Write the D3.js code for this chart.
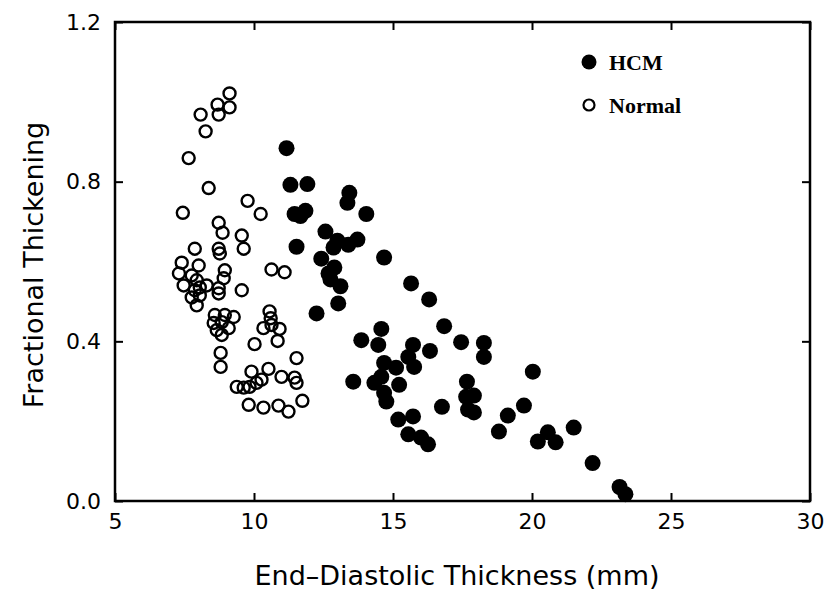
<!DOCTYPE html>
<html>
<head>
<meta charset="utf-8">
<script src="https://cdn.jsdelivr.net/npm/d3@7"></script>
<style>
  body { margin: 0; background: #fff; }
  text { font-family: "DejaVu Sans", sans-serif; fill: #000; }
</style>
</head>
<body>
<div id="chart"></div>
<script>
var w = 829
var h = 592

// HCM patients: end-diastolic thickness (mm), fractional thickening
var hcmX = [11.17, 11.31, 11.92, 11.46, 11.67, 11.85, 11.53, 13.43, 13.36, 14.04,
            12.57, 13.0, 12.86, 13.39, 13.72, 12.42, 12.89, 12.68, 12.75, 13.11,
            13.03, 14.68, 15.65, 16.30, 12.25, 16.84, 17.45, 18.27, 18.27, 14.58,
            13.86, 14.47, 15.72, 15.55, 15.76, 16.33, 14.68, 15.11, 13.57, 14.33,
            14.58, 14.68, 14.76, 15.22, 20.03, 17.66, 17.91, 17.63, 17.70, 17.91,
            16.76, 19.71, 19.13, 15.19, 15.72, 15.55, 16.01, 16.26, 18.81, 20.57,
            20.21, 20.85, 21.50, 22.18, 23.15, 23.36];
var hcmY = [0.884, 0.792, 0.794, 0.719, 0.714, 0.727, 0.637, 0.772, 0.747, 0.719,
            0.675, 0.652, 0.635, 0.642, 0.655, 0.607, 0.585, 0.570, 0.555, 0.538,
            0.495, 0.610, 0.545, 0.505, 0.470, 0.438, 0.398, 0.396, 0.361, 0.431,
            0.403, 0.391, 0.391, 0.361, 0.336, 0.376, 0.346, 0.334, 0.299, 0.296,
            0.311, 0.271, 0.249, 0.291, 0.324, 0.299, 0.264, 0.261, 0.229, 0.222,
            0.236, 0.239, 0.214, 0.204, 0.212, 0.167, 0.159, 0.142, 0.174, 0.172,
            0.149, 0.147, 0.184, 0.095, 0.035, 0.017];

// Normal subjects
var normX = [9.12, 8.69, 9.12, 8.73, 8.08, 8.26, 7.65, 8.37, 7.44, 9.77,
             10.24, 8.73, 8.87, 9.56, 9.63, 7.87, 8.73, 8.77, 7.40, 8.01,
             7.30, 7.76, 8.95, 7.47, 7.94, 8.05, 8.30, 7.87, 8.05, 7.76,
             7.94, 8.73, 8.73, 8.91, 9.56, 8.59, 8.95, 9.27, 8.55, 8.84,
             8.66, 9.09, 8.84, 8.80, 8.80, 10.63, 11.10, 10.56, 10.60, 10.34,
             10.92, 10.63, 10.02, 10.85, 11.53, 9.91, 10.52, 10.99, 11.46, 11.53,
             9.38, 9.63, 9.84, 10.09, 10.27, 9.81, 10.34, 10.88, 11.24, 11.74];
var normY = [1.021, 0.993, 0.986, 0.968, 0.968, 0.926, 0.859, 0.784, 0.722, 0.752,
             0.719, 0.697, 0.672, 0.665, 0.632, 0.632, 0.632, 0.620, 0.597, 0.590,
             0.570, 0.565, 0.578, 0.540, 0.553, 0.535, 0.540, 0.528, 0.515, 0.510,
             0.490, 0.533, 0.520, 0.558, 0.528, 0.466, 0.466, 0.461, 0.446, 0.448,
             0.428, 0.433, 0.416, 0.371, 0.336, 0.580, 0.573, 0.475, 0.458, 0.433,
             0.431, 0.441, 0.393, 0.401, 0.358, 0.324, 0.331, 0.311, 0.309, 0.296,
             0.286, 0.284, 0.286, 0.296, 0.304, 0.241, 0.234, 0.239, 0.224, 0.251];

var xTicks = [5, 10, 15, 20, 25, 30];
var yTicks = [0.0, 0.4, 0.8, 1.2];

var plotL = 115, plotR = 810, plotT = 22, plotB = 501;

var x = d3.scaleLinear().domain([5, 30]).range([plotL, plotR]);
var y = d3.scaleLinear().domain([0, 1.2]).range([plotB, plotT]);

var svg = d3.select("#chart").append("svg")
    .attr("width", w)
    .attr("height", h);

// points first, frame drawn over them
svg.selectAll("circle.hcm").data(hcmX).enter()
  .append("circle")
    .attr("class", "hcm")
    .attr("cx", function(d) { return x(d); })
    .attr("cy", function(d, i) { return y(hcmY[i]); })
    .attr("r", 8)
    .style("fill", "#000");

svg.selectAll("circle.norm").data(normX).enter()
  .append("circle")
    .attr("class", "norm")
    .attr("cx", function(d) { return x(d); })
    .attr("cy", function(d, i) { return y(normY[i]); })
    .attr("r", 6)
    .style("fill", "none")
    .style("stroke", "#000")
    .style("stroke-width", 2.4);

// axes with inward ticks
var fmt = d3.format(".1f");

var gx = svg.append("g")
    .attr("transform", "translate(0," + plotB + ")")
    .call(d3.axisBottom(x).tickValues(xTicks).tickSizeInner(-8).tickSizeOuter(0).tickPadding(12));
var gy = svg.append("g")
    .attr("transform", "translate(" + plotL + ",0)")
    .call(d3.axisLeft(y).tickValues(yTicks).tickFormat(fmt).tickSizeInner(-8).tickSizeOuter(0).tickPadding(14));
var gx2 = svg.append("g")
    .attr("transform", "translate(0," + plotT + ")")
    .call(d3.axisTop(x).tickValues(xTicks).tickSizeInner(-8).tickSizeOuter(0).tickFormat(""));
var gy2 = svg.append("g")
    .attr("transform", "translate(" + plotR + ",0)")
    .call(d3.axisRight(y).tickValues(yTicks).tickSizeInner(-8).tickSizeOuter(0).tickFormat(""));

[gx, gy, gx2, gy2].forEach(function(g) {
  g.selectAll("path").remove();
  g.selectAll("line").style("stroke", "#000").style("stroke-width", 2);
  g.selectAll("text").style("font-size", "22px").style("font-family", "DejaVu Sans, sans-serif");
});

svg.append("rect")
    .attr("x", plotL)
    .attr("y", plotT)
    .attr("width", plotR - plotL)
    .attr("height", plotB - plotT)
    .style("fill", "none")
    .style("stroke", "#000")
    .style("stroke-width", 2.5);

// axis titles
svg.append("text")
    .attr("x", 457)
    .attr("y", 585)
    .attr("text-anchor", "middle")
    .style("font-size", "27px")
    .text("End\u2013Diastolic Thickness (mm)");

svg.append("text")
    .attr("transform", "translate(43," + 265 + ") rotate(-90)")
    .attr("text-anchor", "middle")
    .style("font-size", "27px")
    .text("Fractional Thickening");

// legend
var legend = [ { label: "HCM", filled: true }, { label: "Normal", filled: false } ];

var lg = svg.selectAll("g.legend").data(legend).enter()
  .append("g")
    .attr("class", "legend")
    .attr("transform", function(d, i) { return "translate(589," + (62 + i * 43) + ")"; });

lg.append("circle")
    .attr("r", function(d) { return d.filled ? 7.5 : 5.5; })
    .style("fill", function(d) { return d.filled ? "#000" : "none"; })
    .style("stroke", "#000")
    .style("stroke-width", function(d) { return d.filled ? 0 : 2.2; });

lg.append("text")
    .attr("x", 20)
    .attr("dy", "0.36em")
    .style("font-family", "Liberation Serif, serif")
    .style("font-weight", "bold")
    .style("font-size", "22px")
    .text(function(d) { return d.label; });
</script>
</body>
</html>
